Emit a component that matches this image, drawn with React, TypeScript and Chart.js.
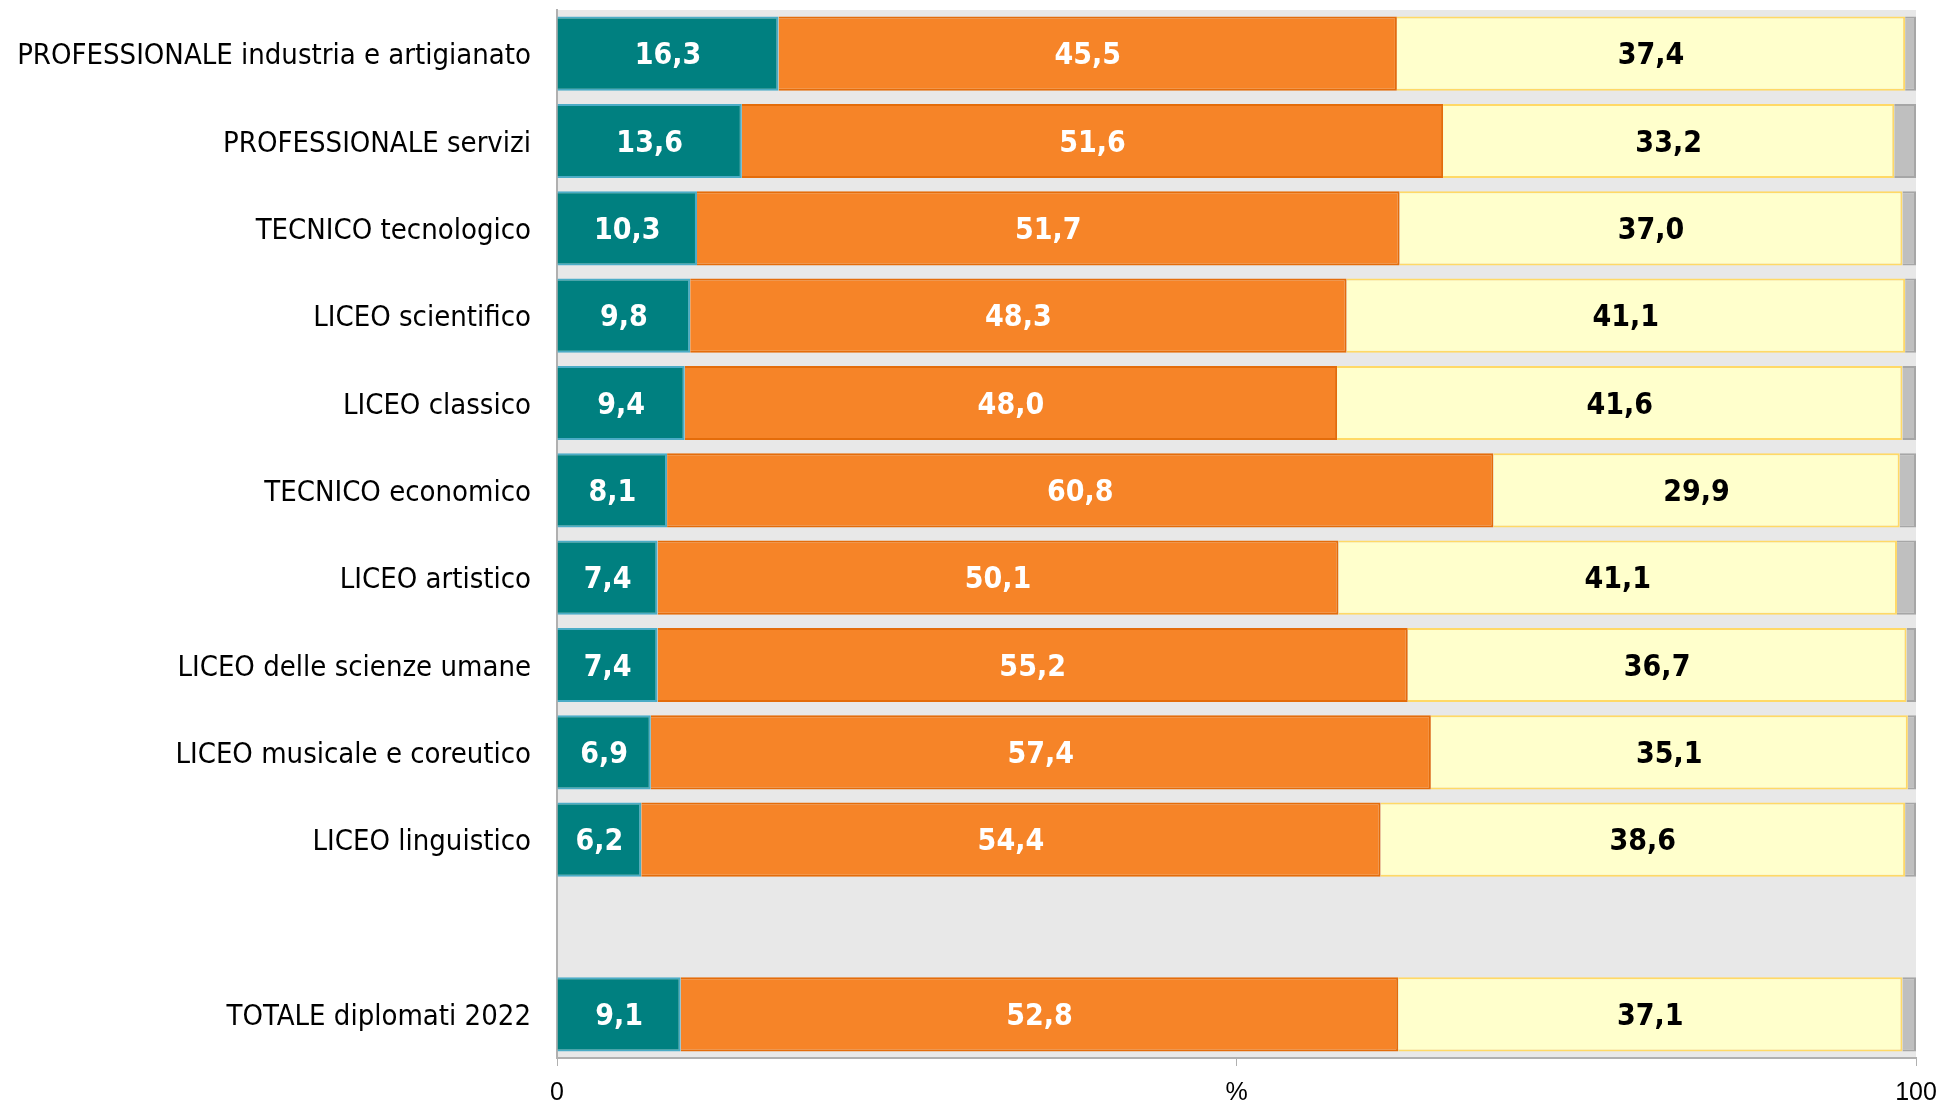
import React, { useEffect, useRef } from 'react';
import { Chart, registerables } from 'chart.js';

Chart.register(...registerables);

const categories = [
  'PROFESSIONALE industria e artigianato',
  'PROFESSIONALE servizi',
  'TECNICO tecnologico',
  'LICEO scientifico',
  'LICEO classico',
  'TECNICO economico',
  'LICEO artistico',
  'LICEO delle scienze umane',
  'LICEO musicale e coreutico',
  'LICEO linguistico',
  '',
  'TOTALE diplomati 2022',
];
const seriesTeal = [16.3, 13.6, 10.3, 9.8, 9.4, 8.1, 7.4, 7.4, 6.9, 6.2, null, 9.1];
const seriesOrange = [45.5, 51.6, 51.7, 48.3, 48.0, 60.8, 50.1, 55.2, 57.4, 54.4, null, 52.8];
const seriesYellow = [37.4, 33.2, 37.0, 41.1, 41.6, 29.9, 41.1, 36.7, 35.1, 38.6, null, 37.1];
const seriesGray = [0.8, 1.6, 1.0, 0.8, 1.0, 1.2, 1.4, 0.7, 0.6, 0.8, null, 1.0];
const xTickValues = [0, 50, 100];
const xTickLabels = ['0', '%', '100'];

const LABEL_FONT = '"DejaVu Sans Condensed", "DejaVu Sans", sans-serif';

const bgPlugin = {
  id: 'plotBg',
  beforeDraw(chart: any) {
    const { ctx, chartArea } = chart;
    ctx.save();
    ctx.fillStyle = '#e8e8e8';
    ctx.fillRect(chartArea.left, chartArea.top, chartArea.right - chartArea.left, chartArea.bottom - chartArea.top);
    ctx.restore();
  },
};

const labelPlugin = {
  id: 'valueLabels',
  afterDatasetsDraw(chart: any) {
    const { ctx } = chart;
    ctx.save();
    ctx.font = `bold 30px ${LABEL_FONT}`;
    ctx.textAlign = 'center';
    ctx.textBaseline = 'middle';
    [0, 1, 2].forEach((di) => {
      const meta = chart.getDatasetMeta(di);
      const data = chart.data.datasets[di].data;
      ctx.fillStyle = di === 2 ? '#000000' : '#ffffff';
      meta.data.forEach((el: any, i: number) => {
        const v = data[i];
        if (v === null || v === undefined) return;
        const cx = (el.x + el.base) / 2;
        ctx.fillText(Number(v).toFixed(1).replace('.', ','), cx, el.y + 3);
      });
    });
    ctx.restore();
  },
};

export default function App() {
  const ref = useRef<HTMLCanvasElement | null>(null);
  useEffect(() => {
    document.body.style.margin = '0';
    const canvas = ref.current;
    if (!canvas) return;
    const chart = new Chart(canvas, {
      type: 'bar',
      data: {
        labels: categories,
        datasets: [
          { data: seriesTeal, backgroundColor: '#008080', borderColor: '#4bacc6', borderWidth: 2 },
          { data: seriesOrange, backgroundColor: '#f68428', borderColor: '#e46c0a', borderWidth: 2 },
          { data: seriesYellow, backgroundColor: '#ffffcc', borderColor: '#ffd966', borderWidth: 2 },
          { data: seriesGray, backgroundColor: '#bfbfbf', borderColor: '#a6a6a6', borderWidth: 2 },
        ],
      },
      options: {
        indexAxis: 'y',
        responsive: false,
        animation: false,
        devicePixelRatio: 1,
        layout: { padding: { top: 10, right: 25, left: 0, bottom: 0 } },
        datasets: { bar: { barPercentage: 1, categoryPercentage: 0.85 } },
        plugins: { legend: { display: false }, tooltip: { enabled: false } },
        scales: {
          x: {
            stacked: true,
            min: 0,
            max: 100,
            afterBuildTicks(scale: any) {
              scale.ticks = xTickValues.map((v) => ({ value: v }));
            },
            afterFit(scale: any) {
              scale.height = 46;
              scale.paddingLeft = 0;
              scale.paddingRight = 0;
            },
            grid: { drawOnChartArea: false, drawTicks: true, tickLength: 8, color: '#b0b0b0', lineWidth: 1 },
            border: { color: '#b0b0b0', width: 2 },
            ticks: {
              padding: 12,
              color: '#000000',
              font: { family: '"Liberation Sans", Arial, sans-serif', size: 25 },
              maxRotation: 0,
              callback: (value: any) => {
                const idx = xTickValues.indexOf(Number(value));
                return idx >= 0 ? xTickLabels[idx] : '';
              },
            },
          },
          y: {
            stacked: true,
            afterFit(scale: any) {
              scale.width = 557;
              scale.paddingTop = 0;
              scale.paddingBottom = 0;
            },
            grid: { display: false },
            border: { color: '#b0b0b0', width: 2 },
            ticks: {
              padding: 18,
              labelOffset: 3,
              color: '#000000',
              font: { family: LABEL_FONT, size: 29 },
              autoSkip: false,
            },
          },
        },
      },
      plugins: [bgPlugin, labelPlugin],
    } as any);
    return () => chart.destroy();
  }, []);
  return (
    <div style={{ position: 'absolute', left: 0, top: 0, width: 1941, height: 1104 }}>
      <canvas ref={ref} width={1941} height={1104} style={{ display: 'block' }} />
    </div>
  );
}
